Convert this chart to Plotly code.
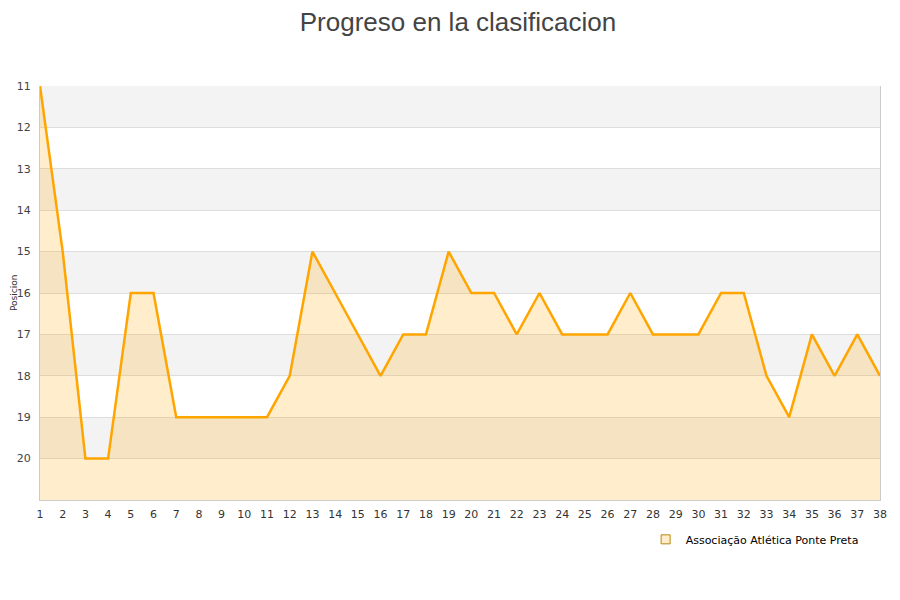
import plotly.graph_objects as go

# Jornadas y posicion del equipo
jornadas = list(range(1, 39))
posicion = [11, 15, 20, 20, 16, 16, 19, 19, 19, 19,
            19, 18, 15, 16, 17, 18, 17, 17, 15, 16,
            16, 17, 16, 17, 17, 17, 16, 17, 17, 17,
            16, 16, 18, 19, 17, 18, 17, 18]
equipo = "Associação Atlética Ponte Preta"
y_ticks = list(range(11, 21))
fondo = 21  # ultima posicion (base del area)
bandas = [11, 13, 15, 17, 19]  # franjas grises

fig = go.Figure()

# base invisible para rellenar hasta abajo
fig.add_trace(go.Scatter(
    x=jornadas, y=[fondo] * len(jornadas),
    mode='lines', line=dict(width=0),
    showlegend=False, hoverinfo='skip'
))
fig.add_trace(go.Scatter(
    x=jornadas, y=posicion,
    mode='lines', fill='tonexty',
    fillcolor='rgba(255,165,0,0.2)',
    line=dict(color='#FFA500', width=2.5),
    name=equipo, showlegend=False
))
# entrada de leyenda con cuadrado
fig.add_trace(go.Scatter(
    x=[None], y=[None], mode='markers', name=equipo,
    marker=dict(symbol='square', size=9, color='rgba(255,165,0,0.2)',
                line=dict(color='#B8860B', width=1))
))

for b in bandas:
    fig.add_shape(type='rect', xref='paper', yref='y',
                  x0=0, x1=1, y0=b, y1=b + 1,
                  fillcolor='#F3F3F3', line=dict(width=0), layer='below')

fig.add_annotation(text='Posicion', xref='paper', yref='paper',
                   x=0, y=0.5, xanchor='center', yanchor='middle',
                   xshift=-26, textangle=-90, showarrow=False,
                   font=dict(size=9, color='#333'))

fig.update_layout(
    width=900, height=600,
    paper_bgcolor='white', plot_bgcolor='white',
    margin=dict(l=32, r=28, t=78, b=108, autoexpand=False),
    font=dict(family='DejaVu Sans', size=11, color='#444'),
    title=dict(text='Progreso en la clasificacion', x=0.5, xanchor='center',
               y=0.977, yanchor='middle',
               font=dict(family='Liberation Sans', size=26, color='#444')),
    legend=dict(x=0.721, xanchor='left', y=-0.06, yanchor='top',
                font=dict(size=11, color='#000'), bgcolor='rgba(0,0,0,0)'),
    showlegend=True,
)
fig.update_xaxes(range=[1, 38], tickmode='array', tickvals=jornadas,
                 showgrid=False, zeroline=False,
                 showline=True, linecolor='#CCCCCC', linewidth=1,
                 ticks='', ticklabelstandoff=4,
                 tickfont=dict(size=11, color='#333'))
fig.update_yaxes(range=[fondo, 11], tickmode='array', tickvals=y_ticks,
                 showgrid=True, gridcolor='#DDDDDD', gridwidth=1,
                 zeroline=False, showline=True, mirror=True,
                 linecolor='#CCCCCC', linewidth=1, ticks='',
                 ticklabelstandoff=6,
                 tickfont=dict(size=11, color='#444'))

fig.write_html("out.html")
